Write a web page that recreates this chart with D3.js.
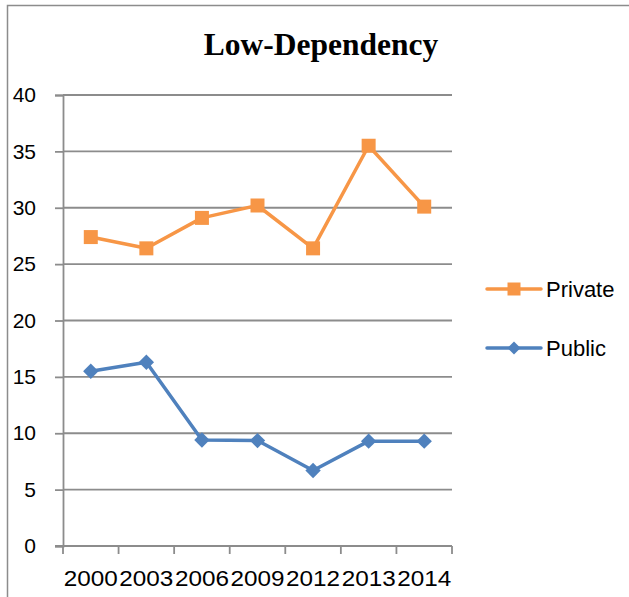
<!DOCTYPE html>
<html>
<head>
<meta charset="utf-8">
<script src="https://cdn.jsdelivr.net/npm/d3@7"></script>
<style>
  html, body { margin: 0; padding: 0; background: #fff; }
  svg { display: block; }
</style>
</head>
<body>
<svg id="chart" width="629" height="597"></svg>
<script>
// Chart data
const years = ["2000", "2003", "2006", "2009", "2012", "2013", "2014"];
const privateValues = [27.4, 26.4, 29.1, 30.2, 26.4, 35.5, 30.1];
const publicValues = [15.5, 16.3, 9.4, 9.35, 6.7, 9.3, 9.3];
const yTicks = [0, 5, 10, 15, 20, 25, 30, 35, 40];
const seriesNames = ["Private", "Public"];
const seriesColors = ["#F79646", "#4F81BD"];

const svg = d3.select("#chart");
const plot = { left: 63, right: 452, top: 95, bottom: 546 };
const labelFont = "'Liberation Sans', Arial, sans-serif";

// Square-proportioned diamond marker (a square turned 45 degrees)
const symbolRhombus = {
  draw(ctx, size) {
    const r = Math.sqrt(size / 2);
    ctx.moveTo(0, -r);
    ctx.lineTo(r, 0);
    ctx.lineTo(0, r);
    ctx.lineTo(-r, 0);
    ctx.closePath();
  }
};

// Outer frame (left and top edges)
svg.append("path")
  .attr("d", "M7.5,597 L7.5,5.5 L629,5.5")
  .attr("fill", "none")
  .attr("stroke", "#8c8c8c")
  .attr("stroke-width", 1.5);

// Title
svg.append("text")
  .attr("x", 321).attr("y", 55)
  .attr("text-anchor", "middle")
  .attr("font-family", "'Liberation Serif', 'Times New Roman', serif")
  .attr("font-weight", "bold")
  .attr("font-size", 31.5)
  .attr("fill", "#000")
  .text("Low-Dependency");

const x = d3.scaleBand().domain(years).range([plot.left, plot.right]).padding(0);
const y = d3.scaleLinear().domain([0, 40]).range([plot.bottom, plot.top]);

// Horizontal gridlines
svg.append("g")
  .selectAll("line")
  .data(yTicks.filter(t => t > 0))
  .join("line")
  .attr("x1", plot.left).attr("x2", plot.right)
  .attr("y1", d => y(d)).attr("y2", d => y(d))
  .attr("stroke", "#8c8c8c")
  .attr("stroke-width", 1.8);

// Y axis
const yAxis = svg.append("g")
  .attr("transform", `translate(${plot.left},0)`)
  .call(d3.axisLeft(y).tickValues(yTicks).tickSize(8).tickPadding(19).tickFormat(d3.format("d")));
yAxis.select(".domain").attr("stroke", "#8c8c8c").attr("stroke-width", 1.8);
yAxis.selectAll(".tick line").attr("stroke", "#8c8c8c").attr("stroke-width", 1.8);
yAxis.selectAll(".tick text")
  .attr("font-family", labelFont)
  .attr("font-size", 21)
  .attr("fill", "#000");

// X axis with ticks at category boundaries
const xg = svg.append("g");
xg.append("line")
  .attr("x1", plot.left - 8).attr("x2", plot.right)
  .attr("y1", plot.bottom).attr("y2", plot.bottom)
  .attr("stroke", "#8c8c8c").attr("stroke-width", 1.8);
const boundaries = years.map(d => x(d)).concat([x(years[years.length - 1]) + x.bandwidth()]);
xg.selectAll("line.tick")
  .data(boundaries)
  .join("line")
  .attr("class", "tick")
  .attr("x1", d => d).attr("x2", d => d)
  .attr("y1", plot.bottom).attr("y2", plot.bottom + 8)
  .attr("stroke", "#8c8c8c").attr("stroke-width", 1.8);
xg.selectAll("text")
  .data(years)
  .join("text")
  .attr("x", d => x(d) + x.bandwidth() / 2)
  .attr("y", 586)
  .attr("text-anchor", "middle")
  .attr("font-family", labelFont)
  .attr("font-size", 21.5)
  .attr("textLength", 54)
  .attr("lengthAdjust", "spacingAndGlyphs")
  .attr("fill", "#000")
  .text(d => d);

// Series lines and markers
const line = d3.line()
  .x((d, i) => x(years[i]) + x.bandwidth() / 2)
  .y(d => y(d));

const series = [
  { name: seriesNames[0], values: privateValues, color: seriesColors[0], symbol: d3.symbolSquare, size: 196, legendSize: 169 },
  { name: seriesNames[1], values: publicValues, color: seriesColors[1], symbol: symbolRhombus, size: 118, legendSize: 84 }
];

series.forEach(s => {
  svg.append("path")
    .datum(s.values)
    .attr("d", line)
    .attr("fill", "none")
    .attr("stroke", s.color)
    .attr("stroke-width", 3.5)
    .attr("stroke-linejoin", "round");
  svg.append("g")
    .selectAll("path")
    .data(s.values)
    .join("path")
    .attr("transform", (d, i) => `translate(${x(years[i]) + x.bandwidth() / 2},${y(d)})`)
    .attr("d", d3.symbol().type(s.symbol).size(s.size))
    .attr("fill", s.color);
});

// Legend
const legendY = [289, 348];
series.forEach((s, i) => {
  const g = svg.append("g").attr("transform", `translate(0,${legendY[i]})`);
  g.append("line")
    .attr("x1", 487).attr("x2", 541)
    .attr("stroke", s.color).attr("stroke-width", 3.5)
    .attr("stroke-linecap", "round");
  g.append("path")
    .attr("transform", "translate(514,0)")
    .attr("d", d3.symbol().type(s.symbol).size(s.legendSize))
    .attr("fill", s.color);
  g.append("text")
    .attr("x", 546).attr("y", 8)
    .attr("font-family", labelFont)
    .attr("font-size", 22)
    .attr("fill", "#000")
    .text(s.name);
});
</script>
</body>
</html>
